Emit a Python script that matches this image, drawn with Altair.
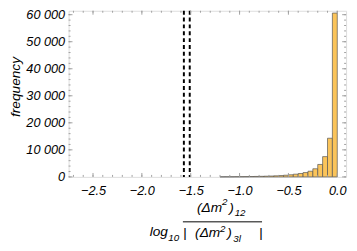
import altair as alt
import pandas as pd
import numpy as np

# ---- data ----
bin_starts = [-1.20, -1.15, -1.10, -1.05, -1.00, -0.95, -0.90, -0.85, -0.80, -0.75,
              -0.70, -0.65, -0.60, -0.55, -0.50, -0.45, -0.40, -0.35, -0.30, -0.25,
              -0.20, -0.15, -0.10, -0.05]
bin_width = 0.05
counts = [30, 40, 50, 70, 90, 110, 140, 170, 210, 260,
          320, 400, 500, 620, 780, 1000, 1250, 1600, 2100, 3000,
          4600, 7500, 14300, 60600]
dashed_x = [-1.57, -1.51]
x_major = [-2.5, -2.0, -1.5, -1.0, -0.5, 0.0]
x_minor = [round(-2.7 + 0.1 * i, 2) for i in range(28)]
y_major = [0, 10000, 20000, 30000, 40000, 50000, 60000]
y_minor = list(range(0, 62000, 2000))

W, H = 284, 170
X_DOM = [-2.75, 0.09]
Y_DOM = [0, 61446]
FONT = "Liberation Sans"
FRAME = "#a0a0a0"

bars = pd.DataFrame({"x0": bin_starts,
                     "x1": [b + bin_width for b in bin_starts],
                     "n": counts,
                     "base": [0] * len(counts)})

xs = alt.Scale(domain=X_DOM, nice=False, zero=False)
ys = alt.Scale(domain=Y_DOM, nice=False, zero=False)

xaxis = alt.Axis(values=x_major, title=None, ticks=False, domain=False, grid=False,
                 labelExpr="replace(format(datum.value, '.1f'), '-', '\u2212')",
                 labelFont=FONT, labelFontStyle="italic", labelFontSize=13,
                 labelColor="black", labelPadding=8, labelOverlap=False)
yaxis = alt.Axis(values=y_major, title=None, ticks=False, domain=False, grid=False,
                 labelExpr="datum.value == 0 ? '0' : replace(format(datum.value, ','), ',', ' ')",
                 labelFont=FONT, labelFontStyle="italic", labelFontSize=13,
                 labelColor="black", labelPadding=4, labelOverlap=False)

bar_layer = alt.Chart(bars).mark_bar(fill="#FBC45A", stroke="#555555",
                                     strokeWidth=0.7).encode(
    x=alt.X("x0:Q", scale=xs, axis=xaxis),
    x2="x1:Q",
    y=alt.Y("n:Q", scale=ys, axis=yaxis),
    y2="base:Q",
)

dash_layer = alt.Chart(pd.DataFrame({"x": dashed_x})).mark_rule(
    color="black", strokeWidth=2, strokeDash=[4, 3]).encode(
    x=alt.X("x:Q", scale=xs, axis=xaxis), y=alt.value(0), y2=alt.value(H))


def xticks(vals, length):
    d = pd.DataFrame({"x": vals})
    b = alt.Chart(d).mark_rule(color=FRAME, strokeWidth=1).encode(
        x=alt.X("x:Q", scale=xs, axis=xaxis), y=alt.value(H), y2=alt.value(H - length))
    t = alt.Chart(d).mark_rule(color=FRAME, strokeWidth=1).encode(
        x=alt.X("x:Q", scale=xs, axis=xaxis), y=alt.value(0), y2=alt.value(length))
    return [b, t]


def yticks(vals, length):
    d = pd.DataFrame({"y": vals})
    l = alt.Chart(d).mark_rule(color=FRAME, strokeWidth=1).encode(
        y=alt.Y("y:Q", scale=ys, axis=yaxis), x=alt.value(0), x2=alt.value(length))
    r = alt.Chart(d).mark_rule(color=FRAME, strokeWidth=1).encode(
        y=alt.Y("y:Q", scale=ys, axis=yaxis), x=alt.value(W), x2=alt.value(W - length))
    return [l, r]


tick_layers = xticks(x_major, 4) + xticks(x_minor, 2) + yticks(y_major, 4) + yticks(y_minor, 2)

one = pd.DataFrame({"a": [0]})
OX, OY = 70, 8  # page position of plot origin


def txt(s, px, py, size, angle=0, align="left", baseline="alphabetic"):
    kw = dict(text=s, font=FONT, fontStyle="italic", fontSize=size, color="black",
              align=align, baseline=baseline)
    if angle:
        kw["angle"] = angle
    return alt.Chart(one).mark_text(**kw).encode(x=alt.value(px - OX), y=alt.value(py - OY))


labels = [
    txt("frequency", 16, 86, 14, angle=270, align="center", baseline="middle"),
    # log10
    txt("log", 153, 238, 14),
    txt("10", 172, 244, 10),
    # numerator (Δm²)12
    txt("(Δm", 201.5, 214, 14),
    txt("2", 227, 207, 10),
    txt(")", 234.5, 214, 14),
    txt("12", 240, 218, 10),
    # denominator | (Δm²)3l |
    txt("|", 187, 240, 14),
    txt("(Δm", 199.5, 240, 14),
    txt("2", 225, 234, 10),
    txt(")", 232.5, 240, 14),
    txt("3l", 238.5, 244.5, 10),
    txt("|", 265, 240, 14),
]

frac_bar = alt.Chart(one).mark_rule(color="black", strokeWidth=1).encode(
    x=alt.value(187 - OX), x2=alt.value(268 - OX), y=alt.value(224 - OY))

chart = alt.layer(bar_layer, dash_layer, *tick_layers, frac_bar, *labels).properties(
    width=W, height=H,
    autosize=alt.AutoSizeParams(type="none"),
    padding={"left": 62, "top": 0, "right": 3, "bottom": 73},
).configure_view(stroke=FRAME, strokeWidth=1).configure(background="white")

chart.save("out.html", embed_options={"renderer": "svg", "actions": False})
